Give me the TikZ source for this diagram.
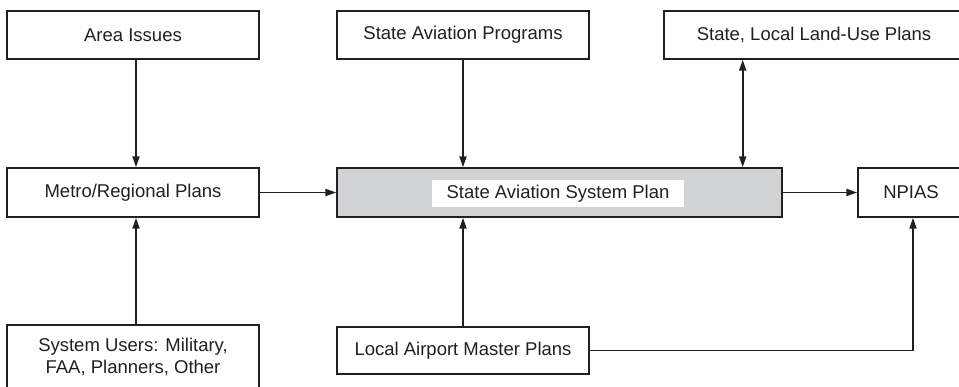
\documentclass[tikz,border=0pt]{standalone}
\usepackage{fontspec}
\setmainfont{Liberation Sans}
\usetikzlibrary{arrows.meta}
\definecolor{ink}{HTML}{231F20}
\definecolor{panel}{HTML}{D2D3D5}
\begin{document}
\begin{tikzpicture}[x=1pt,y=-1pt,
  box/.style={draw=ink, line width=1.4pt, rectangle, inner sep=0pt, align=center,
    text=ink, font=\fontsize{18.5}{22}\selectfont, fill=white},
  arr/.style={draw=ink, line width=1.9pt, -{Triangle[length=11pt,width=7pt]}},
  arrb/.style={draw=ink, line width=1.9pt, {Triangle[length=11pt,width=7pt]}-{Triangle[length=11pt,width=7pt]}}]
\useasboundingbox (0,0) rectangle (959,387);
\clip (0,0) rectangle (959,387);
\node[box, minimum width=252pt, minimum height=48pt] (area) at (133,35) {Area Issues};
\node[box, minimum width=252pt, minimum height=48pt] (sap) at (463,35) {State Aviation Programs};
\node[box, minimum width=300pt, minimum height=48pt] (lu) at (814,35) {State, Local Land-Use Plans};
\node[box, minimum width=252pt, minimum height=49pt] (metro) at (133,192.5) {Metro/Regional Plans};
\node[box, fill=panel, minimum width=445pt, minimum height=49pt] (sasp) at (559.5,192.5) {};
\node[box, draw=none, fill=white, minimum width=252pt, minimum height=27pt] (sasptext) at (558,193.5) {State Aviation System Plan};
\node[box, minimum width=106pt, minimum height=49pt] (npias) at (911,192.5) {NPIAS};
\node[box, minimum width=252pt, minimum height=64pt] (users) at (133,357) {System Users: Military,\\FAA, Planners, Other};
\node[box, minimum width=252pt, minimum height=47pt] (lamp) at (463,350.5) {Local Airport Master Plans};
\draw[arr] ([xshift=3pt]area.south) -- ([xshift=3pt]metro.north);
\draw[arr] ([xshift=3pt]users.north) -- ([xshift=3pt]metro.south);
\draw[arr] (sap.south) -- (sap.south |- sasp.north);
\draw[arr] (lamp.north) -- (lamp.north |- sasp.south);
\draw[arrb] ([xshift=-40pt]sasp.north east |- lu.south) -- ([xshift=-40pt]sasp.north east);
\draw[arr] (metro.east) -- (sasp.west);
\draw[arr] (sasp.east) -- (npias.west);
\draw[arr] (lamp.east) -| ([xshift=2pt]npias.south);
\end{tikzpicture}
\end{document}
